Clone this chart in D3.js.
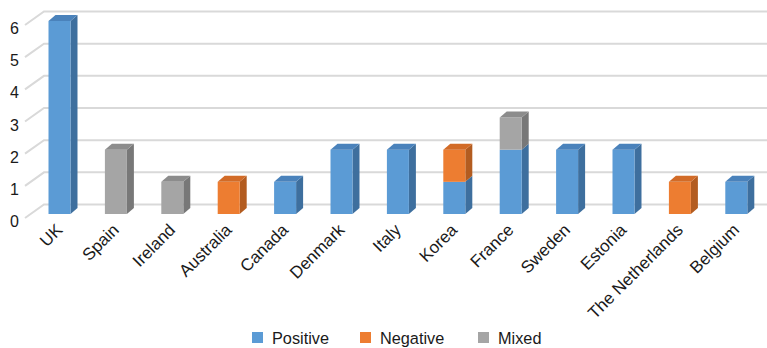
<!DOCTYPE html>
<html><head><meta charset="utf-8">
<script src="https://cdn.jsdelivr.net/npm/d3@7"></script>
<style>body{margin:0;background:#fff}svg{display:block;font-family:"Liberation Sans",Arial,Helvetica,sans-serif}</style>
</head><body><svg id="c" width="767" height="348"></svg>
<script>
const categories = ["UK","Spain","Ireland","Australia","Canada","Denmark","Italy","Korea","France","Sweden","Estonia","The Netherlands","Belgium"];
const positive = [6,0,0,0,1,2,2,1,2,2,2,0,1];
const negative = [0,0,0,1,0,0,0,1,0,0,0,1,0];
const mixed    = [0,2,1,0,0,0,0,0,1,0,0,0,0];
const seriesNames = ["Positive","Negative","Mixed"];
const yTicks = [0,1,2,3,4,5,6];

const colors = {
  Positive:{front:"#5B9BD5", side:"#3E6F9E", top:"#4A82BB"},
  Negative:{front:"#ED7D31", side:"#B35C20", top:"#D26B27"},
  Mixed:{front:"#A5A5A5", side:"#787878", top:"#8C8C8C"}
};

const svg = d3.select("#c");
const x = d3.scaleBand().domain(categories).range([31.3, 764.5]).paddingInner(0.61).paddingOuter(0.305);
const y = d3.scaleLinear().domain([0,6]).range([214,21]);
const dx = 7, dy = -6;

// gridlines (3D back wall)
const grid = svg.append("g");
yTicks.forEach(v => {
  const yy = y(v);
  grid.append("path")
    .attr("d", `M25,${yy+4}L44,${yy-9.5}L767,${yy-9.5}`)
    .attr("fill","none").attr("stroke","#d9d9d9").attr("stroke-width",2);
});

// y-axis labels
svg.append("g").selectAll("text").data(yTicks).join("text")
  .attr("x",19).attr("y",d=>y(d)+13)
  .attr("text-anchor","end").attr("font-size",16).attr("fill","#1a1a1a")
  .text(d=>d);

// stacked data
const rows = categories.map((c,i)=>({cat:c, Positive:positive[i], Negative:negative[i], Mixed:mixed[i]}));
const stack = d3.stack().keys(seriesNames)(rows);

const bars = svg.append("g");
categories.forEach((c,i)=>{
  const x0 = x(c), w = x.bandwidth();
  const segs = stack.map(s=>({key:s.key, y0:s[i][0], y1:s[i][1]})).filter(s=>s.y1>s.y0);
  segs.forEach((s,k)=>{
    const col = colors[s.key];
    const yt = y(s.y1), yb = y(s.y0);
    bars.append("path")
      .attr("d",`M${x0+w},${yb}L${x0+w+dx},${yb+dy}L${x0+w+dx},${yt+dy}L${x0+w},${yt}Z`)
      .attr("fill",col.side);
    bars.append("rect").attr("x",x0).attr("y",yt).attr("width",w).attr("height",yb-yt).attr("fill",col.front);
    if(k===segs.length-1){
      bars.append("path")
        .attr("d",`M${x0},${yt}L${x0+dx},${yt+dy}L${x0+w+dx},${yt+dy}L${x0+w},${yt}Z`)
        .attr("fill",col.top);
    }
  });
});

// category labels
svg.append("g").selectAll("text").data(categories).join("text")
  .attr("transform",d=>`translate(${x(d)+x.bandwidth()/2+4},231) rotate(-45)`)
  .attr("text-anchor","end").attr("font-size",17).attr("fill","#1a1a1a")
  .text(d=>d);

// legend
const legX = [252,360,478];
const leg = svg.append("g");
seriesNames.forEach((n,i)=>{
  leg.append("rect").attr("x",legX[i]).attr("y",332).attr("width",11).attr("height",11).attr("fill",colors[n].front);
  leg.append("text").attr("x",legX[i]+20).attr("y",343.5).attr("font-size",16.3).attr("fill","#1a1a1a").text(n);
});
</script></body></html>
